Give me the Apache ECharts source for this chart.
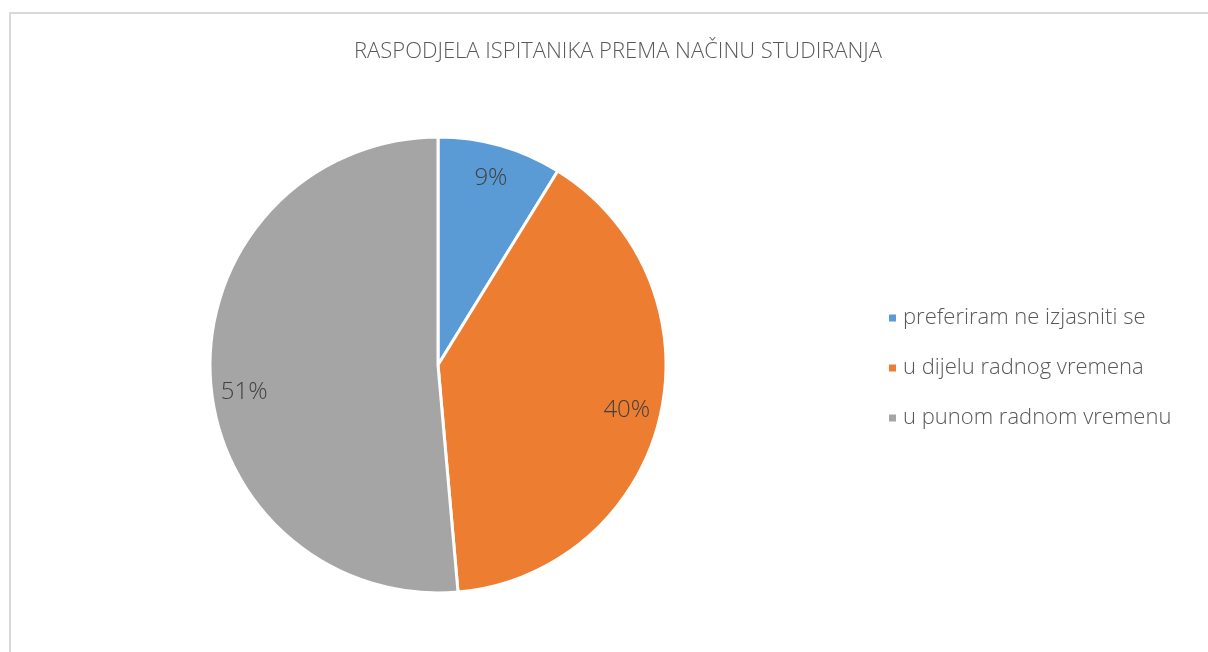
<!DOCTYPE html>
<html>
<head>
<meta charset="utf-8">
<script src="https://cdn.jsdelivr.net/npm/echarts@6/dist/echarts.min.js"></script>
<style>
  html, body { margin: 0; padding: 0; background: #fff; }
  #frame { position: absolute; left: 9px; top: 12px; width: 1210px; height: 660px; border: 2px solid #d9d9d9; box-sizing: border-box; }
  #chart { width: 1208px; height: 652px; position: absolute; left: 0; top: 0; }
</style>
</head>
<body>
<div id="frame"></div>
<div id="chart"></div>
<script>
const title = 'RASPODJELA ISPITANIKA PREMA NAČINU STUDIRANJA';
const categories = ['preferiram ne izjasniti se', 'u dijelu radnog vremena', 'u punom radnom vremenu'];
const shares = [8.8, 39.8, 51.4];
const colors = ['#5b9bd5', '#ed7d31', '#a5a5a5'];

const font = '"Open Sans", "Noto Sans", sans-serif';
const data = categories.map((name, i) => ({ name: name, value: shares[i], itemStyle: { color: colors[i] } }));
const total = shares.reduce((a, b) => a + b, 0);

let chartDom = document.getElementById('chart');
let myChart = echarts.init(chartDom);
let option = {
	animation: false,
	title: {
		text: title,
		left: 613,
		top: 36,
		textAlign: 'center',
		textStyle: { fontFamily: font, fontWeight: 300, fontSize: 22, color: '#595959' }
	},
	legend: {
		orient: 'vertical',
		left: 882,
		top: 302,
		icon: 'rect',
		itemWidth: 9,
		itemHeight: 9,
		itemGap: 28,
		selectedMode: false,
		data: categories,
		textStyle: { fontFamily: font, fontWeight: 300, fontSize: 22, color: '#595959', padding: [0, 0, 0, 1] }
	},
	series: [
		{
			type: 'pie',
			center: [438, 365],
			radius: 228,
			startAngle: 90,
			clockwise: true,
			data: data,
			itemStyle: { borderColor: '#fff', borderWidth: 3 },
			label: { show: false },
			labelLine: { show: false },
			emphasis: { disabled: true }
		},
		{
			// transparent ring only to place the labels near the rim
			type: 'pie',
			center: [438, 365],
			radius: [154, 228],
			startAngle: 90,
			clockwise: true,
			silent: true,
			data: categories.map((name, i) => ({ name: name, value: shares[i] })),
			itemStyle: { color: 'rgba(0,0,0,0)' },
			label: {
				show: true,
				position: 'inside',
				fontFamily: font,
				fontWeight: 300,
				fontSize: 24,
				lineHeight: 38,
				color: '#404040',
				// the last label sits a little lower in the original
				formatter: p => (p.dataIndex === 2 ? '\n' : '') + Math.round(p.value / total * 100) + '%'
			},
			labelLine: { show: false },
			emphasis: { disabled: true }
		}
	]
};

option && myChart.setOption(option);
</script>
</body>
</html>
